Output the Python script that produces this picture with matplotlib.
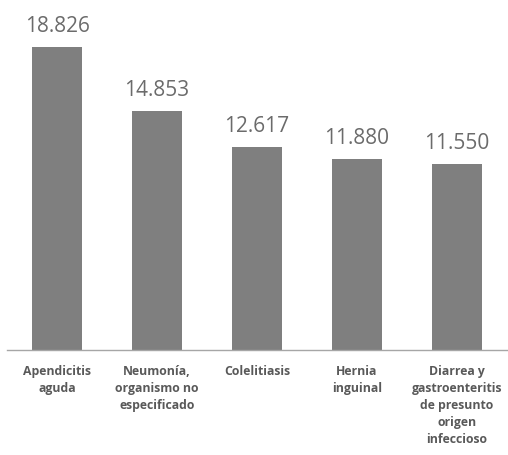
import numpy as np
import matplotlib.pyplot as plt

# Hospital discharges by diagnosis
categories = ["Apendicitis\naguda", "Neumonía,\norganismo no\nespecificado", "Colelitiasis",
              "Hernia\ninguinal", "Diarrea y\ngastroenteritis\nde presunto\norigen\ninfeccioso"]
values = [18826, 14853, 12617, 11880, 11550]
value_labels = ["18.826", "14.853", "12.617", "11.880", "11.550"]

plt.rcParams['font.family'] = ['Open Sans', 'DejaVu Sans']

fig = plt.figure(figsize=(5.08, 4.55), dpi=100)
ax = fig.add_axes([0.014, 0.2308, 0.984, 0.7077])

x = np.arange(len(categories))
bars = ax.bar(x, values, width=0.5, color='#7f7f7f')

for b, lbl in zip(bars, value_labels):
    ax.annotate(lbl, (b.get_x() + b.get_width() / 2, b.get_height()),
                xytext=(0, 7), textcoords='offset points',
                ha='center', va='bottom', fontsize=15, color='#6b6b6b')

ax.set_xlim(-0.5, 4.5)
ax.set_ylim(0, 20000)
ax.set_xticks(x)
ax.set_xticklabels(categories, fontsize=8.8, fontweight='bold', color='#595959',
                   linespacing=1.4)
ax.tick_params(axis='x', length=0, pad=11)
ax.set_yticks([])
for s in ['top', 'left', 'right']:
    ax.spines[s].set_visible(False)
ax.spines['bottom'].set_color('#a6a6a6')
ax.spines['bottom'].set_linewidth(1)

fig.savefig('out.png', dpi=100)
